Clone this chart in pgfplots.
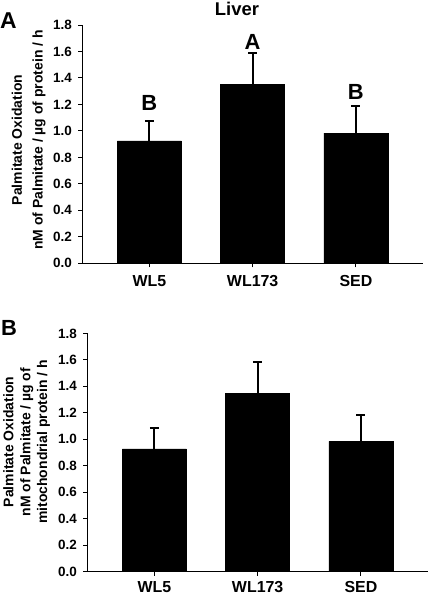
\documentclass[border=0pt]{standalone}
\usepackage{fontspec}
\setmainfont{Liberation Sans}
\usepackage{pgfplots}
\pgfplotsset{compat=1.18}
\newcommand{\fs}[1]{\fontsize{#1}{#1}\selectfont\bfseries}
\pgfplotsset{
  liverstyle/.style={
    scale only axis, width=340.7bp, height=238.3bp,
    anchor=south west,
    xmin=-0.65, xmax=2.65, ymin=0, ymax=1.8,
    axis x line=bottom, axis y line=left,
    axis line style={-, line width=1.3bp, black},
    ytick={0,0.2,0.4,0.6,0.8,1.0,1.2,1.4,1.6,1.8},
    xtick={0,1,2}, xticklabels={WL5,WL173,SED},
    tick align=outside,
    major tick length=4bp,
    tick style={line width=1bp, black},
    /pgf/number format/assume math mode=true,
    yticklabel style={/pgf/number format/.cd, fixed, fixed zerofill, precision=1, /tikz/.cd, font=\fs{13.5}, xshift=-3bp},
    xticklabel style={font=\fs{16}, yshift=-5bp},
    ybar, bar width=64bp,
  },
  barplot/.style={fill=black, draw=black,
    error bars/.cd, y dir=plus, y explicit,
    error bar style={line width=2bp, black},
    error mark options={rotate=90, line width=2bp, mark size=4.5bp, black}},
}
\begin{document}
\begin{tikzpicture}[x=1bp,y=1bp]
\useasboundingbox (0,0) rectangle (430,-596);
% Panel A
\begin{axis}[liverstyle, at={(82.3bp,-263.3bp)}]
\addplot[barplot] coordinates {(0,0.925) +- (0,0.152) (1,1.352) +- (0,0.233) (2,0.984) +- (0,0.203)};
\node[font=\fs{22}] at (axis cs:0,1.212) {B};
\node[font=\fs{22}] at (axis cs:1,1.670) {A};
\node[font=\fs{22}] at (axis cs:2,1.292) {B};
\end{axis}
% Panel B
\begin{axis}[liverstyle, at={(87.3bp,-571.7bp)}, xticklabel style={yshift=3bp}]
\addplot[barplot] coordinates {(0,0.927) +- (0,0.155) (1,1.347) +- (0,0.237) (2,0.985) +- (0,0.201)};
\end{axis}
\node[font=\fs{18.5}] at (237,-8.7) {Liver};
\node[font=\fs{23}] at (8.5,-21) {A};
\node[font=\fs{22}] at (9,-327.5) {B};
\node[rotate=90, align=center, font=\fontsize{14}{20.7}\selectfont\bfseries, inner sep=0pt] at (28.7,-140) {Palmitate Oxidation\\nM of Palmitate / µg of protein / h};
\node[rotate=90, align=center, font=\fontsize{14}{17}\selectfont\bfseries, inner sep=0pt] at (26.7,-442) {Palmitate Oxidation\\nM of Palmitate / µg of\\mitochondrial protein / h};
\end{tikzpicture}
\end{document}
